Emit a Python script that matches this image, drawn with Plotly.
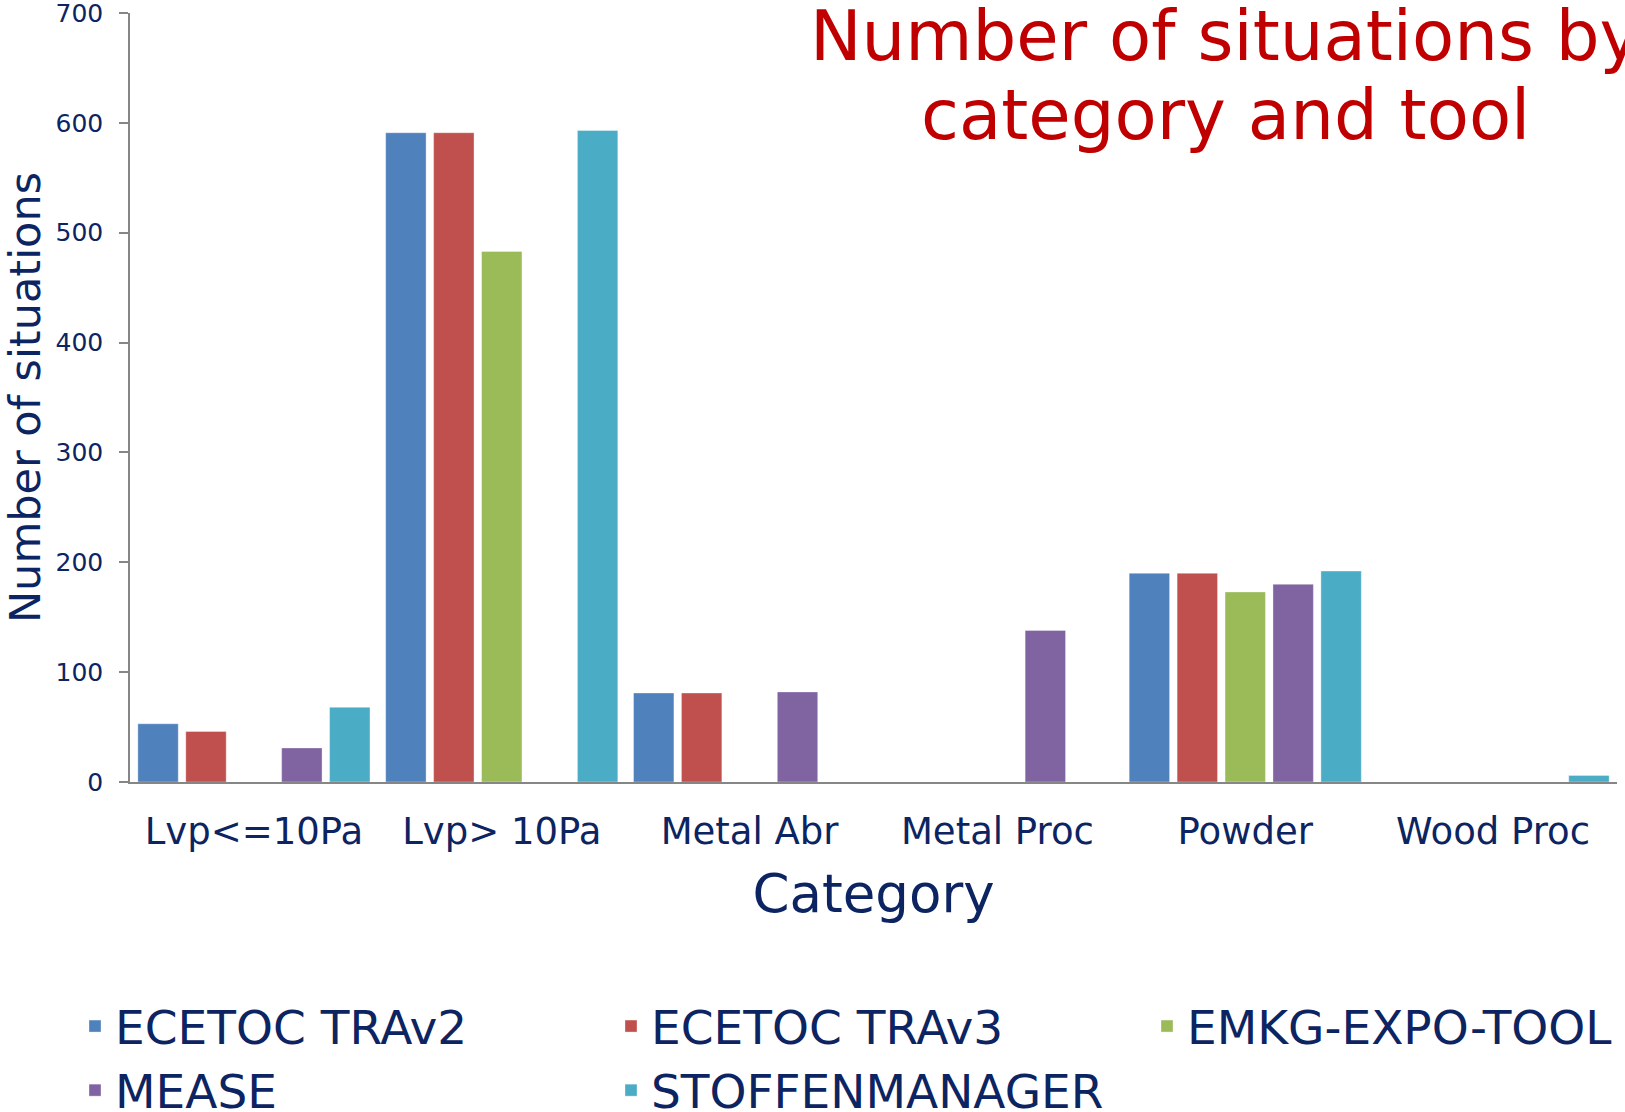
import plotly.graph_objects as go

categories = ["Lvp<=10Pa", "Lvp> 10Pa", "Metal Abr", "Metal Proc", "Powder", "Wood Proc"]
tools = ["ECETOC TRAv2", "ECETOC TRAv3", "EMKG-EXPO-TOOL", "MEASE", "STOFFENMANAGER"]
trav2 = [53, 591, 81, None, 190, None]
trav3 = [46, 591, 81, None, 190, None]
emkg = [None, 483, None, None, 173, None]
mease = [31, None, 82, 138, 180, None]
stoff = [68, 593, None, None, 192, 6]
colors = ["#4F81BD", "#C0504D", "#9BBB59", "#8064A2", "#4BACC6"]
series = [trav2, trav3, emkg, mease, stoff]

NAVY = "#0C2461"
FONT = "DejaVu Sans"

fig = go.Figure()
for name, vals, col in zip(tools, series, colors):
    fig.add_trace(go.Bar(
        x=categories, y=vals, name=name,
        marker=dict(color=col, line=dict(color="rgba(255,255,255,0.35)", width=1)),
    ))

W, H = 1625, 1112
ml, mr, mt, mb = 130, 8, 13, 330
pw = W - ml - mr
ph = H - mt - mb

def px_x(p):
    return (p - ml) / pw

def px_y(p):
    return (H - mb - p) / ph

fig.update_layout(
    width=W, height=H,
    margin=dict(l=ml, r=mr, t=mt, b=mb, autoexpand=False),
    paper_bgcolor="white", plot_bgcolor="white",
    barmode="group", bargap=0.033, bargroupgap=0.157,
    font=dict(family=FONT, color=NAVY),
    showlegend=True,
    legend=dict(
        orientation="h", xref="paper", yref="paper",
        x=px_x(75), xanchor="left", y=px_y(989), yanchor="top",
        entrywidth=491, entrywidthmode="pixels",
        font=dict(size=47, color=NAVY, family=FONT),
        bgcolor="rgba(0,0,0,0)", traceorder="normal",
    ),
    xaxis=dict(
        showline=True, linecolor="#868686", linewidth=1.5,
        showgrid=False, ticks="", ticklabelstandoff=16,
        tickfont=dict(size=37, color=NAVY),
        title=dict(text="Category", font=dict(size=53, color=NAVY), standoff=23),
    ),
    yaxis=dict(
        range=[0, 700], tickvals=[0, 100, 200, 300, 400, 500, 600, 700],
        showline=True, linecolor="#868686", linewidth=1.5,
        ticks="outside", ticklen=9, tickcolor="#868686", tickwidth=1.5,
        showgrid=False, zeroline=False, ticklabelstandoff=11,
        ticklabeloverflow="allow",
        tickfont=dict(size=25, color=NAVY),
        title=dict(text="Number of situations", font=dict(size=43, color=NAVY), standoff=11),
    ),
)

fig.add_annotation(text="Number of situations by", xref="paper", yref="paper",
                   x=px_x(1225), y=px_y(36), xanchor="center", yanchor="middle",
                   showarrow=False, font=dict(size=69, color="#C00000", family=FONT))
fig.add_annotation(text="category and tool", xref="paper", yref="paper",
                   x=px_x(1225), y=px_y(115), xanchor="center", yanchor="middle",
                   showarrow=False, font=dict(size=69, color="#C00000", family=FONT))

fig.write_html("out.html", config={"displayModeBar": False},
               post_script="document.body.style.margin='0';")
